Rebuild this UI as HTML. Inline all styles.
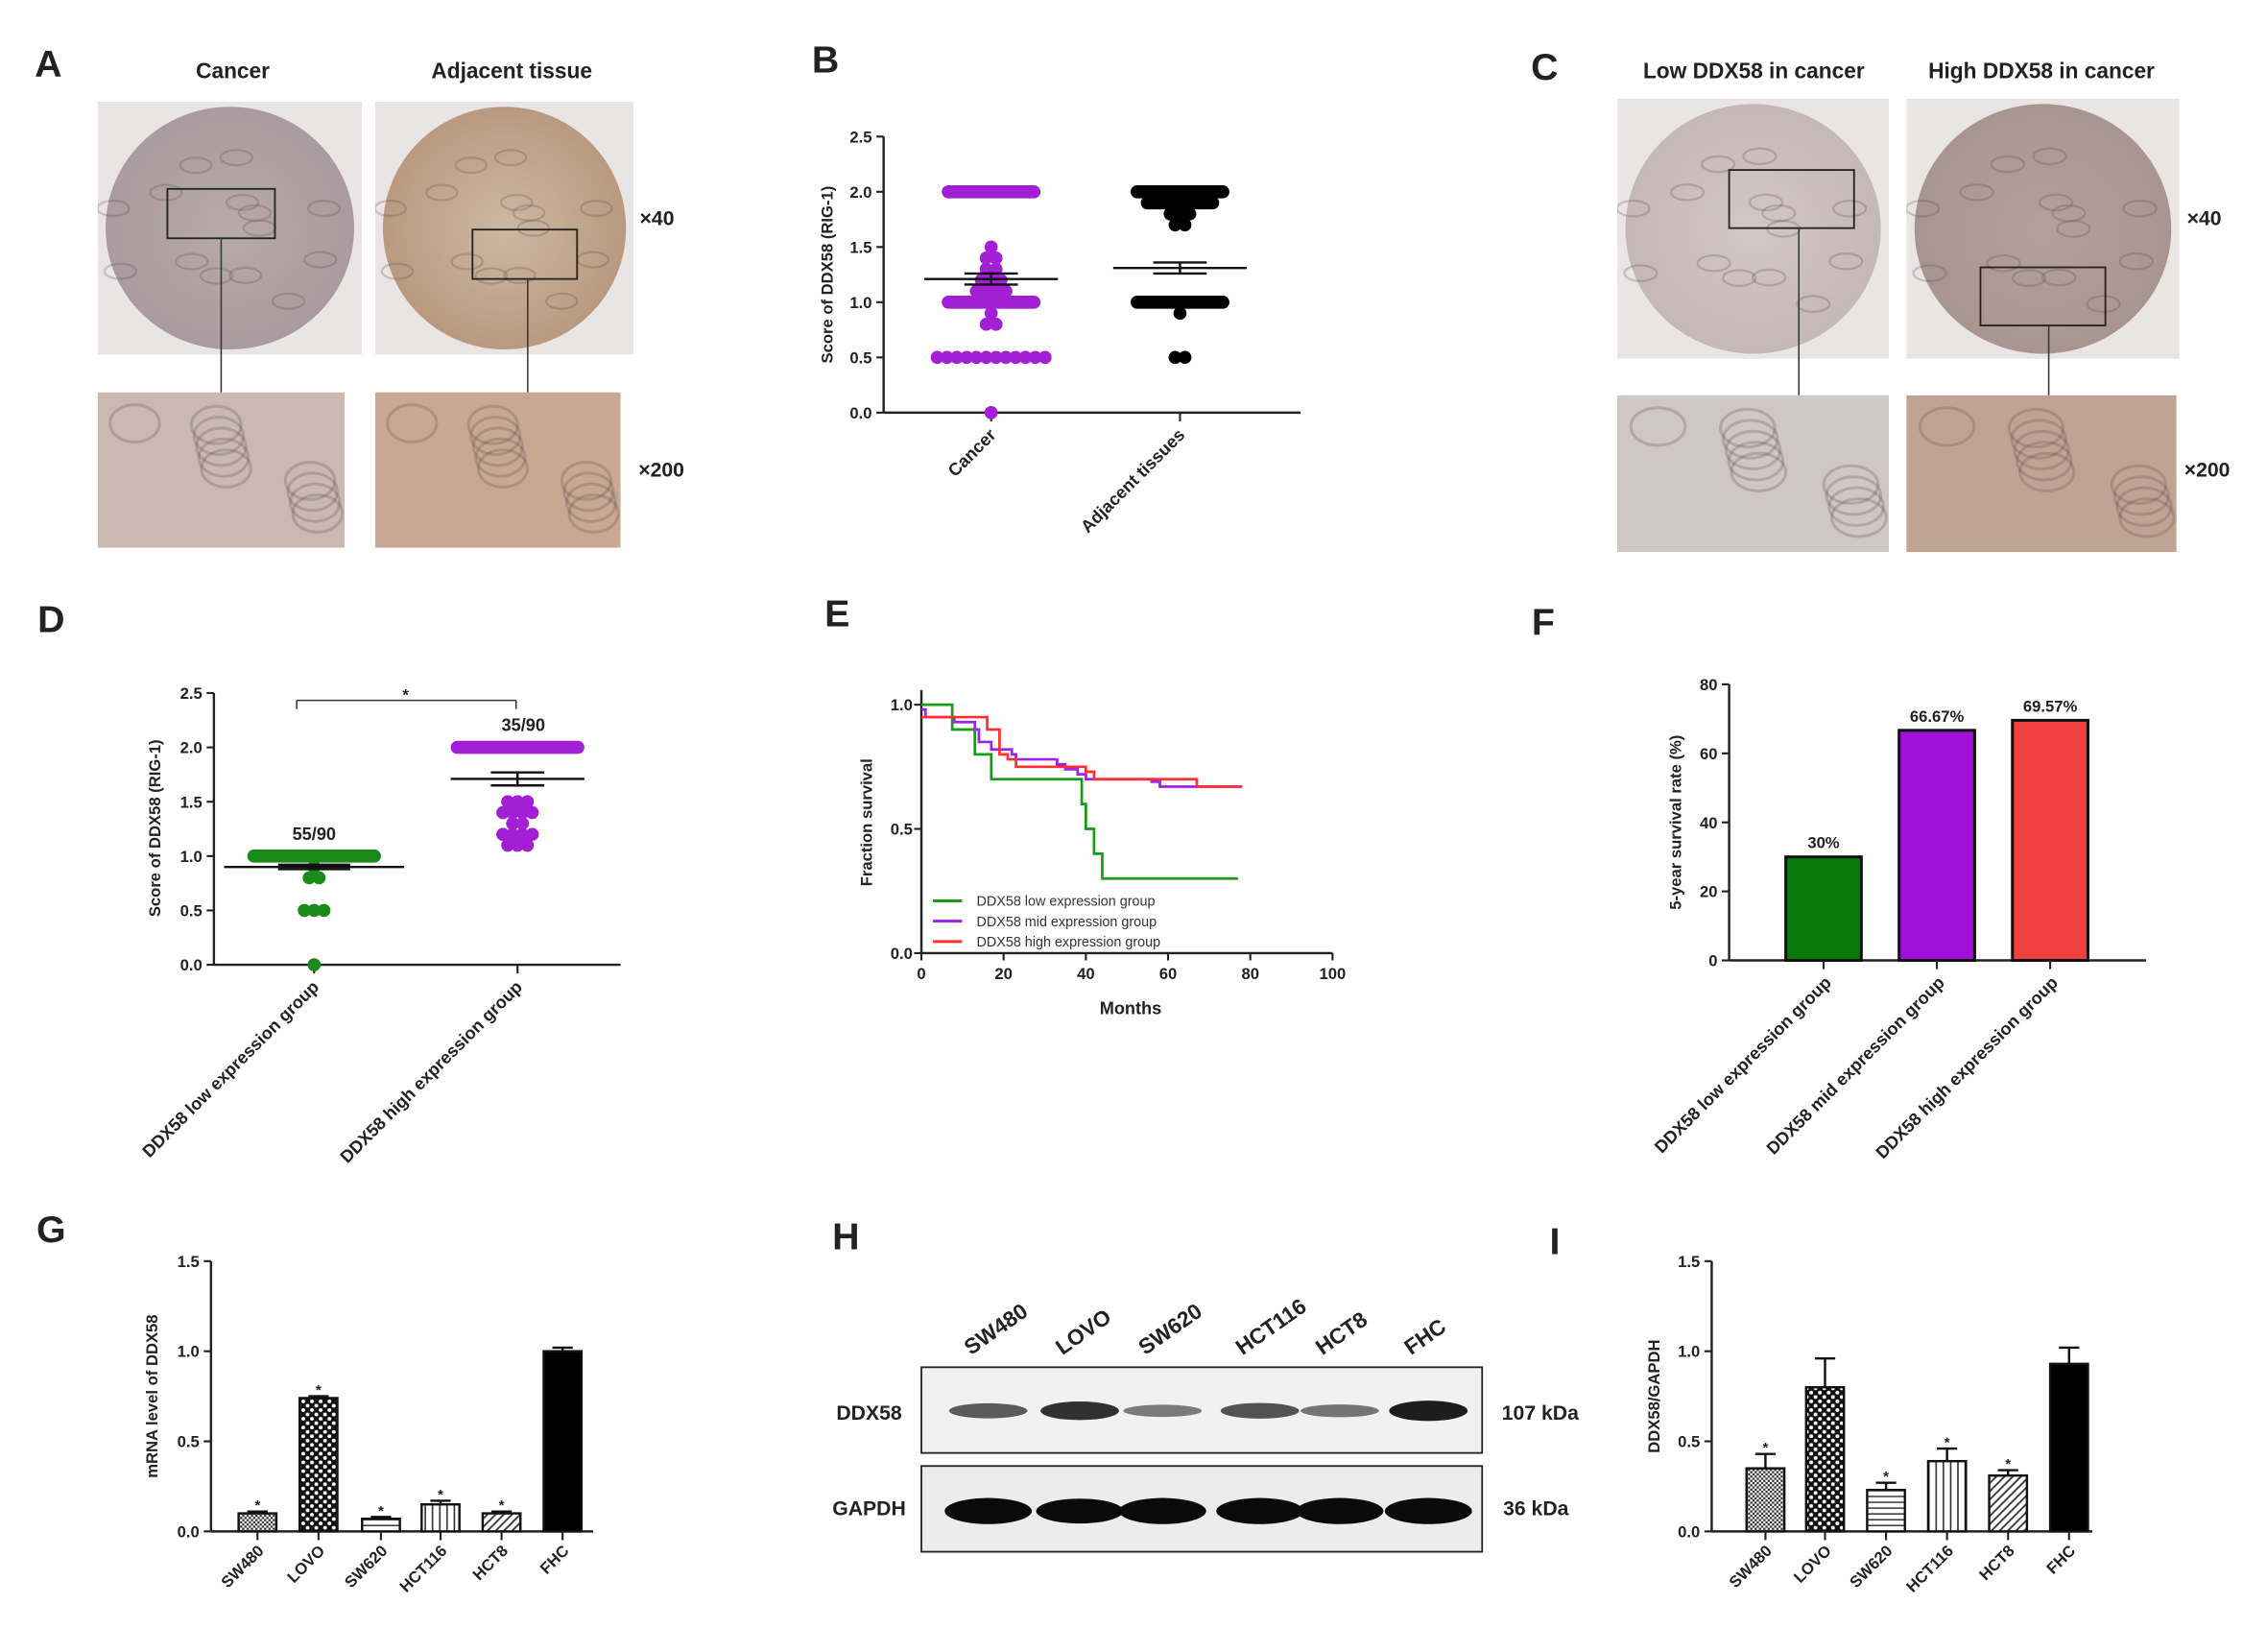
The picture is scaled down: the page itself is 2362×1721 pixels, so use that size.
<!DOCTYPE html>
<html><head><meta charset="utf-8"><style>
html,body{margin:0;padding:0;background:#fff}
svg{display:block}
text{font-family:"Liberation Sans",Arial,sans-serif;font-weight:bold;fill:#222}
</style></head><body>
<svg id="fig" xmlns="http://www.w3.org/2000/svg" width="2362" height="1721" viewBox="0 0 1560 1137">
<defs>
<pattern id="pChk" width="3" height="3" patternUnits="userSpaceOnUse"><rect width="3" height="3" fill="#fff"/><rect width="1.5" height="1.5" fill="#333"/><rect x="1.5" y="1.5" width="1.5" height="1.5" fill="#333"/></pattern>
<pattern id="pDot" width="6" height="6" patternUnits="userSpaceOnUse"><rect width="6" height="6" fill="#111"/><circle cx="1.5" cy="1.5" r="1.3" fill="#fff"/><circle cx="4.5" cy="4.5" r="1.3" fill="#fff"/></pattern>
<pattern id="pH" width="4" height="4" patternUnits="userSpaceOnUse"><rect width="4" height="4" fill="#fff"/><rect y="1.5" width="4" height="0.9" fill="#222"/></pattern>
<pattern id="pV" width="5" height="5" patternUnits="userSpaceOnUse"><rect width="5" height="5" fill="#fff"/><rect x="2" width="1" height="5" fill="#222"/></pattern>
<pattern id="pD" width="4" height="4" patternUnits="userSpaceOnUse" patternTransform="rotate(45)"><rect width="4" height="4" fill="#fff"/><rect x="1.5" width="1.2" height="4" fill="#333"/></pattern>
<radialGradient id="gCore1" cx="50%" cy="50%" r="50%"><stop offset="0" stop-color="#b9a9a8"/><stop offset="1" stop-color="#a99b9f"/></radialGradient>
<radialGradient id="gCore2" cx="50%" cy="50%" r="50%"><stop offset="0" stop-color="#cdb8a3"/><stop offset="1" stop-color="#b99a80"/></radialGradient>
<radialGradient id="gCore3" cx="50%" cy="50%" r="50%"><stop offset="0" stop-color="#d2c8c6"/><stop offset="1" stop-color="#c4b8b8"/></radialGradient>
<radialGradient id="gCore4" cx="50%" cy="50%" r="50%"><stop offset="0" stop-color="#b3a19e"/><stop offset="1" stop-color="#a99590"/></radialGradient>
</defs>
</svg>
<script>
// ---------- data ----------
const bCats=['Cancer','Adjacent tissues'];
const bMeans=[1.21,1.31];
const bSem=[0.05,0.05];
const bCancerDots=[[2.0,70],[1.0,95],[0.5,12],[0.0,1],[1.5,1],[1.4,2],[1.3,2],[1.2,3],[1.1,4],[0.9,1],[0.8,2]];
const bAdjDots=[[2.0,68],[1.9,30],[1.8,3],[1.7,2],[1.0,95],[0.9,1],[0.5,2]];
const dCats=['DDX58 low expression group','DDX58 high expression group'];
const dMeans=[0.9,1.71];
const dSem=[0.02,0.06];
const dLowDots=[[1.0,92],[0.9,1],[0.8,2],[0.5,3],[0.0,1]];
const dHighDots=[[2.0,94],[1.5,3],[1.4,4],[1.3,2],[1.2,4],[1.1,3]];
const eLow=[[0,1.0],[7.5,0.9],[13,0.8],[17,0.7],[39,0.6],[40,0.5],[42,0.4],[44,0.3],[77,0.3]];
const eMid=[[0,0.98],[1,0.95],[8,0.93],[13,0.9],[14,0.85],[17,0.82],[22,0.8],[23,0.78],[33,0.76],[35,0.74],[38,0.72],[40,0.7],[56,0.69],[58,0.67],[78,0.67]];
const eHigh=[[0,0.95],[16,0.9],[19,0.8],[21,0.78],[23,0.75],[40,0.73],[42,0.7],[67,0.67],[78,0.67]];
const fCats=['DDX58 low expression group','DDX58 mid expression group','DDX58 high expression group'];
const fVals=[30,66.67,69.57];
const fLabels=['30%','66.67%','69.57%'];
const cellLines=['SW480','LOVO','SW620','HCT116','HCT8','FHC'];
const gVals=[0.1,0.74,0.07,0.15,0.1,1.0];
const gErr=[0.01,0.01,0.01,0.02,0.01,0.02];
const gStar=[1,1,1,1,1,0];
const iVals=[0.35,0.80,0.23,0.39,0.31,0.93];
const iErr=[0.08,0.16,0.04,0.07,0.03,0.09];
const iStar=[1,0,1,1,1,0];
const blotDDX=[0.55,0.85,0.3,0.6,0.35,1.0];
const blotGAP=[1,0.95,1,1,1,1];

// ---------- helpers ----------
const svg=document.getElementById('fig');
const NS='http://www.w3.org/2000/svg';
function mk(tag,attrs,parent){const e=document.createElementNS(NS,tag);for(const k in attrs)e.setAttribute(k,attrs[k]);(parent||svg).appendChild(e);return e;}
function txt(s,x,y,size,anchor,parent,rot){const e=mk('text',{x:x,y:y,'font-size':size,'text-anchor':anchor||'middle'},parent);if(rot!==undefined)e.setAttribute('transform','rotate('+rot+' '+x+' '+y+')');e.textContent=s;return e;}

// ---------- panel letters ----------
[['A',33,53],['B',568,50],['C',1063,55],['D',35,435],['E',576,431],['F',1062,437],['G',35,855],['H',582,860],['I',1070,863]].forEach(p=>{
 const t=txt(p[0],p[1],p[2],26,'middle');
 
 
});

// ---------- histology images ----------
let clipId=0;
function histo(x,y,w,h,fill,core,box,name){
 const g=mk('g',{});
 
 
 const cid='clip'+(clipId++);
 const cp=mk('clipPath',{id:cid},svg.querySelector('defs'));
 mk('rect',{x:x,y:y,width:w,height:h},cp);
 const inner=mk('g',{'clip-path':'url(#'+cid+')'},g);
 if(core){
  mk('rect',{x:x,y:y,width:w,height:h,fill:'#e8e5e4'},inner);
  mk('ellipse',{cx:x+w/2,cy:y+h/2,rx:w*0.47,ry:h*0.48,fill:'url(#'+fill+')'},inner);
  for(let i=0;i<14;i++){const a=i*2.4,r=(i%5)*0.06+0.08;mk('ellipse',{cx:x+w/2+Math.cos(a)*w*r*1.4,cy:y+h/2+Math.sin(a)*h*r*1.4,rx:w*0.06,ry:h*0.03,fill:'none',stroke:'rgba(90,70,80,0.25)','stroke-width':1.5},inner);}
  mk('rect',{x:box[0],y:box[1],width:box[2],height:box[3],fill:'none',stroke:'#222','stroke-width':1.2},g);
 } else {
  mk('rect',{x:x,y:y,width:w,height:h,fill:fill},inner);
  for(let i=0;i<10;i++){mk('ellipse',{cx:x+w*(0.15+(i*0.37)%0.75),cy:y+h*(0.2+(i*0.29)%0.65),rx:w*0.1,ry:h*0.12,fill:'none',stroke:'rgba(90,70,80,0.25)','stroke-width':2},inner);}
 }
}
histo(67,70,182,174,'gCore1',true,[115,130,74,34],'image-cancer-x40');
histo(258,70,178,174,'gCore2',true,[325,158,72,34],'image-adjacent-x40');
histo(67,270,170,107,'#c9b9b0',false,null,'image-cancer-x200');
histo(258,270,169,107,'#c8a891',false,null,'image-adjacent-x200');
histo(1113,68,187,179,'gCore3',true,[1190,117,86,40],'image-low-ddx58-x40');
histo(1312,68,188,179,'gCore4',true,[1363,184,86,40],'image-high-ddx58-x40');
histo(1113,272,187,108,'#cfc6c6',false,null,'image-low-ddx58-x200');
histo(1312,272,186,108,'#c0a493',false,null,'image-high-ddx58-x200');
[[152,164,152,270],[363,192,363,270],[1238,157,1238,272],[1410,224,1410,272]].forEach(l=>mk('line',{x1:l[0],y1:l[1],x2:l[2],y2:l[3],stroke:'#333','stroke-width':1}));
[['Cancer',160,54],['Adjacent tissue',352,54],['Low DDX58 in cancer',1207,54],['High DDX58 in cancer',1405,54]].forEach(t=>{const e=txt(t[0],t[1],t[2],15);});
[['×40',452,155],['×200',455,328],['×40',1517,155],['×200',1519,328]].forEach(t=>{const e=txt(t[0],t[1],t[2],14);});

// ---------- generic axis ----------
function yAxis(x0,y0,y1,max,step,dec,fs){
 const sc=v=>y0-(y0-y1)*v/max;
 mk('line',{x1:x0,y1:y1,x2:x0,y2:y0,stroke:'#222','stroke-width':1.6});
 for(let v=0;v<=max+1e-9;v+=step){const y=sc(v);mk('line',{x1:x0-5,y1:y,x2:x0,y2:y,stroke:'#222','stroke-width':1.4});const t=txt(v.toFixed(dec),x0-8,y+4,fs||11,'end');}
 return sc;
}
function dots(arr,cx,halfW,sc,color,r){
 arr.forEach(d=>{const n=d[1];const w=Math.min(halfW,n*0.9);const y=sc(d[0]);
  if(n>20){const e=mk('rect',{x:cx-w,y:y-r,width:2*w,height:2*r,rx:r,fill:color});}
  else{for(let i=0;i<n;i++){const off=(i-(n-1)/2)*r*1.5;const e=mk('circle',{cx:cx+off,cy:y,r:r,fill:color});}}
 });
}
function meanBar(cx,hw,m,s,sc){
 mk('line',{x1:cx-hw,y1:sc(m),x2:cx+hw,y2:sc(m),stroke:'#111','stroke-width':1.6});
 mk('line',{x1:cx,y1:sc(m-s),x2:cx,y2:sc(m+s),stroke:'#111','stroke-width':1.6});
 [m-s,m+s].forEach(v=>mk('line',{x1:cx-hw*0.4,y1:sc(v),x2:cx+hw*0.4,y2:sc(v),stroke:'#111','stroke-width':1.6}));
}

// ---------- panel B ----------
{const sc=yAxis(608,284,94,2.5,0.5,1);
 mk('line',{x1:608,y1:284,x2:895,y2:284,stroke:'#222','stroke-width':1.6});
 const cx=[682,812];
 cx.forEach(c=>mk('line',{x1:c,y1:284,x2:c,y2:290,stroke:'#222','stroke-width':1.4}));
 dots(bCancerDots,cx[0],34,sc,'#a31fd6',4.5);
 dots(bAdjDots,cx[1],34,sc,'#000',4.5);
 meanBar(cx[0],46,bMeans[0],bSem[0],sc);meanBar(cx[1],46,bMeans[1],bSem[1],sc);
 bCats.forEach((c,i)=>{const t=txt(c,cx[i]+4,300,12,'end',null,-45);});
 const yt=txt('Score of DDX58 (RIG-1)',573,189,11,'middle',null,-90);}

// ---------- panel D ----------
{const sc=yAxis(147,664,477,2.5,0.5,1);
 mk('line',{x1:147,y1:664,x2:427,y2:664,stroke:'#222','stroke-width':1.6});
 const cx=[216,356];
 cx.forEach(c=>mk('line',{x1:c,y1:664,x2:c,y2:670,stroke:'#222','stroke-width':1.4}));
 dots(dLowDots,cx[0],46,sc,'#1a8a1a',4.5);
 dots(dHighDots,cx[1],46,sc,'#a31fd6',4.5);
 meanBar(cx[0],62,dMeans[0],dSem[0],sc);meanBar(cx[1],46,dMeans[1],dSem[1],sc);
 txt('55/90',216,578,12);txt('35/90',360,503,12);
 mk('line',{x1:204,y1:482,x2:355,y2:482,stroke:'#333','stroke-width':1});
 mk('line',{x1:204,y1:482,x2:204,y2:488,stroke:'#333'});mk('line',{x1:355,y1:482,x2:355,y2:488,stroke:'#333'});
 txt('*',279,482,11);
 dCats.forEach((c,i)=>{const t=txt(c,cx[i]+4,680,12,'end',null,-45);});
 const yt=txt('Score of DDX58 (RIG-1)',110,570,11,'middle',null,-90);}

// ---------- panel E ----------
{const x0=634,x1=917,y0=656,y1=485;
 const sx=m=>x0+(x1-x0)*m/100, sy=v=>y0-(y0-y1)*v;
 mk('line',{x1:x0,y1:475,x2:x0,y2:y0,stroke:'#222','stroke-width':1.6});
 mk('line',{x1:x0,y1:y0,x2:x1,y2:y0,stroke:'#222','stroke-width':1.6});
 [0,0.5,1].forEach(v=>{mk('line',{x1:x0-5,y1:sy(v),x2:x0,y2:sy(v),stroke:'#222','stroke-width':1.4});const t=txt(v.toFixed(1),x0-6,sy(v)+4,11,'end');});
 [0,20,40,60,80,100].forEach(m=>{mk('line',{x1:sx(m),y1:y0,x2:sx(m),y2:y0+5,stroke:'#222','stroke-width':1.4});const t=txt(String(m),sx(m),y0+18,11);});
 const xt=txt('Months',778,698,12);
 const yt=txt('Fraction survival',600,566,11,'middle',null,-90);
 function step(arr){let d='M'+sx(arr[0][0])+','+sy(arr[0][1]);for(let i=1;i<arr.length;i++){d+=' H'+sx(arr[i][0])+' V'+sy(arr[i][1]);}return d;}
 [[eLow,'#1a9a1a','km-curve-low'],[eMid,'#a020f0','km-curve-mid'],[eHigh,'#ff3030','km-curve-high']].forEach(s=>{const p=mk('path',{d:step(s[0]),fill:'none',stroke:s[1],'stroke-width':1.8});});
 [['DDX58 low expression group','#1a9a1a',620],['DDX58 mid expression group','#a020f0',634],['DDX58 high expression group','#ff3030',648]].forEach(l=>{
  const g=mk('g',{});
  mk('line',{x1:642,y1:l[2],x2:662,y2:l[2],stroke:l[1],'stroke-width':2},g);
  const t=txt(l[0],672,l[2]+3.5,9.5,'start',g);t.style.fontWeight='normal';t.style.fill='#333';});
}

// ---------- panel F ----------
{const sc=yAxis(1190,661,471,80,20,0);
 mk('line',{x1:1190,y1:661,x2:1477,y2:661,stroke:'#222','stroke-width':1.6});
 const cx=[1255,1333,1411],cols=['#0a7a0a','#a010d8','#f04040'];
 fVals.forEach((v,i)=>{const r=mk('rect',{x:cx[i]-26,y:sc(v),width:52,height:661-sc(v),fill:cols[i],stroke:'#111','stroke-width':2});
  const t=txt(fLabels[i],cx[i],sc(v)-6,11);
  mk('line',{x1:cx[i],y1:661,x2:cx[i],y2:667,stroke:'#222','stroke-width':1.4});
  const c=txt(fCats[i],cx[i]+6,677,12,'end',null,-45);});
 const yt=txt('5-year survival rate (%)',1157,566,11,'middle',null,-90);}

// ---------- panels G & I ----------
const fills=['url(#pChk)','url(#pDot)','url(#pH)','url(#pV)','url(#pD)','#000'];
function cellBars(x0,xEnd,cx,vals,errs,stars,title,titleX){
 const sc=yAxis(x0,1054,868,1.5,0.5,1);
 mk('line',{x1:x0,y1:1054,x2:xEnd,y2:1054,stroke:'#222','stroke-width':1.6});
 vals.forEach((v,i)=>{
  mk('line',{x1:cx[i],y1:sc(v),x2:cx[i],y2:sc(v+errs[i]),stroke:'#111','stroke-width':1.6});
  mk('line',{x1:cx[i]-7,y1:sc(v+errs[i]),x2:cx[i]+7,y2:sc(v+errs[i]),stroke:'#111','stroke-width':1.6});
  const r=mk('rect',{x:cx[i]-13,y:sc(v),width:26,height:1054-sc(v),fill:fills[i],stroke:'#111','stroke-width':1.6});
  
  
  if(stars[i]){const s=txt('*',cx[i],sc(v+errs[i])-1,10);}
  mk('line',{x1:cx[i],y1:1054,x2:cx[i],y2:1060,stroke:'#222','stroke-width':1.4});
  const t=txt(cellLines[i],cx[i]+5,1068,11,'end',null,-45);
 });
 const yt=txt(title,titleX,961,11,'middle',null,-90);
}
cellBars(145,408,[177,219,262,303,345,387],gVals,gErr,gStar,'mRNA level of DDX58',108);
cellBars(1178,1440,[1215,1256,1298,1340,1382,1424],iVals,iErr,iStar,'DDX58/GAPDH',1142);

// ---------- panel H (western blot) ----------
{const lanes=[680,743,800,867,922,983];
 const b1=mk('rect',{x:634,y:941,width:386,height:59,fill:'#f1f1f1',stroke:'#222','stroke-width':1.2});
 
 const b2=mk('rect',{x:634,y:1009,width:386,height:59,fill:'#ececec',stroke:'#222','stroke-width':1.2});
 
 lanes.forEach((x,i)=>{
  const e=mk('ellipse',{cx:x,cy:971,rx:27,ry:3+4*blotDDX[i],fill:'#111','fill-opacity':0.35+0.6*blotDDX[i]});
  
  const g=mk('ellipse',{cx:x,cy:1040,rx:30,ry:9*blotGAP[i],fill:'#0a0a0a'});
  
  const t=txt(cellLines[i],x-12,933,15,'start',null,-35);
 });
 [['DDX58',598,977],['GAPDH',598,1043],['107 kDa',1060,977],['36 kDa',1057,1043]].forEach(t=>{const e=txt(t[0],t[1],t[2],14);});
}
</script>
</body></html>
